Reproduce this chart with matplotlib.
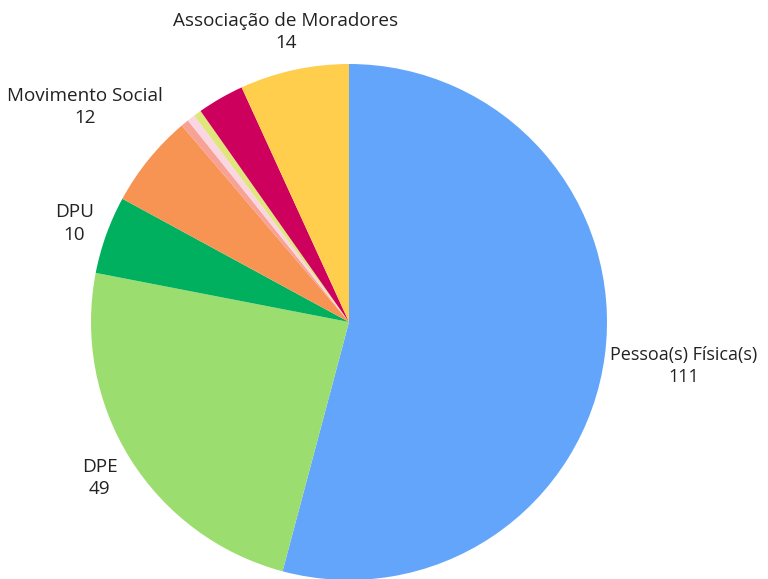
import matplotlib
matplotlib.use('Agg')
import matplotlib.pyplot as plt
import numpy as np

# slices, clockwise from the top
labels = ["Pessoa(s) Física(s)", "DPE", "DPU", "Movimento Social", "", "", "", "", "Associação de Moradores"]
values = [111, 49, 10, 12, 1, 1, 1, 6, 14]
colors = ["#63A5FA", "#9CDD6F", "#00B05E", "#F79453", "#F8A195", "#FAD6E2", "#E0E57C", "#CE005D", "#FFCE4C"]
# how far out each label sits (pie radius = 1)
label_dist = [1.31, 1.14, 1.13, 1.32, 0, 0, 0, 0, 1.15]

W, H = 768, 579
fig = plt.figure(figsize=(W / 100, H / 100), dpi=100)
cx, cy, r = 349, 322, 258
ax = fig.add_axes([(cx - r) / W, (H - cy - r) / H, 2 * r / W, 2 * r / H])

wedges, _ = ax.pie(values, colors=colors, startangle=90, counterclock=False,
                   radius=1, wedgeprops=dict(linewidth=0))
ax.set_xlim(-1, 1)
ax.set_ylim(-1, 1)
ax.set_aspect('equal')
ax.axis('off')

for w, lab, v, d in zip(wedges, labels, values, label_dist):
    if not lab:
        continue
    ang = np.deg2rad((w.theta1 + w.theta2) / 2)
    x, y = d * np.cos(ang), d * np.sin(ang)
    size = 13 if lab.startswith("Pessoa") else 13.6
    ax.text(x, y, f"{lab}\n{v}", ha='center', va='center', fontsize=size,
            family='Open Sans', color='#222222', linespacing=1.3, clip_on=False)

fig.savefig("out.png", dpi=100)
